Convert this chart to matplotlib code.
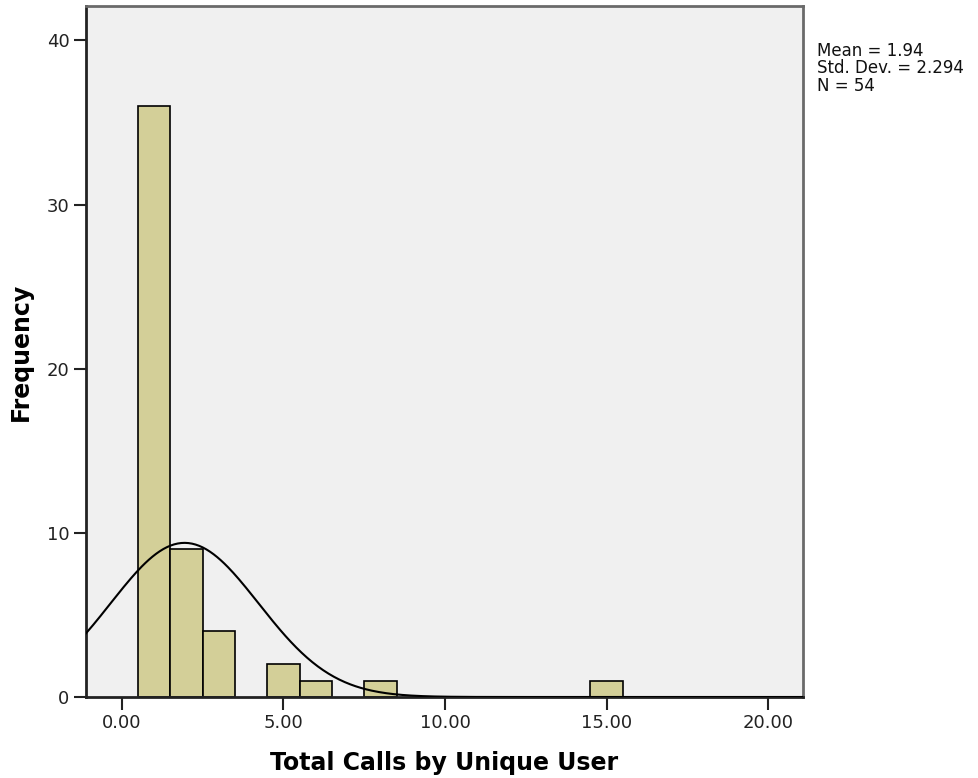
import numpy as np
import matplotlib.pyplot as plt
from matplotlib.ticker import FormatStrFormatter

# histogram bins (centre of each 1-wide bin) and counts
bin_centers = [1, 2, 3, 5, 6, 8, 15]
counts = [36, 9, 4, 2, 1, 1, 1]
bin_width = 1.0

# summary stats printed by SPSS
mean = 1.94
std = 2.294
n = 54

x_ticks = [0, 5, 10, 15, 20]
y_ticks = [0, 10, 20, 30, 40]

bar_color = '#D3CF98'
bg_color = '#F0F0F0'

fig = plt.figure(figsize=(9.79, 7.78), dpi=100)
ax = fig.add_axes([86 / 979, 1 - 697 / 778, (803 - 86) / 979, (697 - 6) / 778])
ax.set_facecolor(bg_color)

ax.bar(bin_centers, counts, width=bin_width, color=bar_color,
       edgecolor='black', linewidth=1.2, zorder=2)

# fitted normal curve, scaled to counts
xs = np.linspace(-1.11, 21.08, 400)
curve = n * bin_width / (std * np.sqrt(2 * np.pi)) * np.exp(-0.5 * ((xs - mean) / std) ** 2)
ax.plot(xs, curve, color='black', linewidth=1.5, zorder=3)

ax.set_xlim(-1.11, 21.08)
ax.set_ylim(0, 42.1)
ax.set_xticks(x_ticks)
ax.set_yticks(y_ticks)
ax.xaxis.set_major_formatter(FormatStrFormatter('%.2f'))
ax.tick_params(axis='both', direction='out', length=9, width=1.5,
               labelsize=13, colors='#222222', pad=3)

for side in ['left', 'bottom']:
    ax.spines[side].set_linewidth(2)
    ax.spines[side].set_color('#222222')
for side in ['top', 'right']:
    ax.spines[side].set_linewidth(2)
    ax.spines[side].set_color('#6a6a6a')

ax.set_xlabel('Total Calls by Unique User', fontsize=17, fontweight='bold', labelpad=14)
ax.set_ylabel('Frequency', fontsize=17, fontweight='bold', labelpad=10)

fig.text(817 / 979, 1 - 42 / 778,
         'Mean = %.2f\nStd. Dev. = %.3f\nN = %d' % (mean, std, n),
         fontsize=12, va='top', ha='left', linespacing=0.95, color='#111111')

# title sits mostly above the visible canvas, only the descender shows
fig.text(391 / 979, 1 + 5 / 778, 'Histogram', fontsize=17, fontweight='bold',
         ha='center', va='baseline')

plt.savefig('out.png', dpi=100)
